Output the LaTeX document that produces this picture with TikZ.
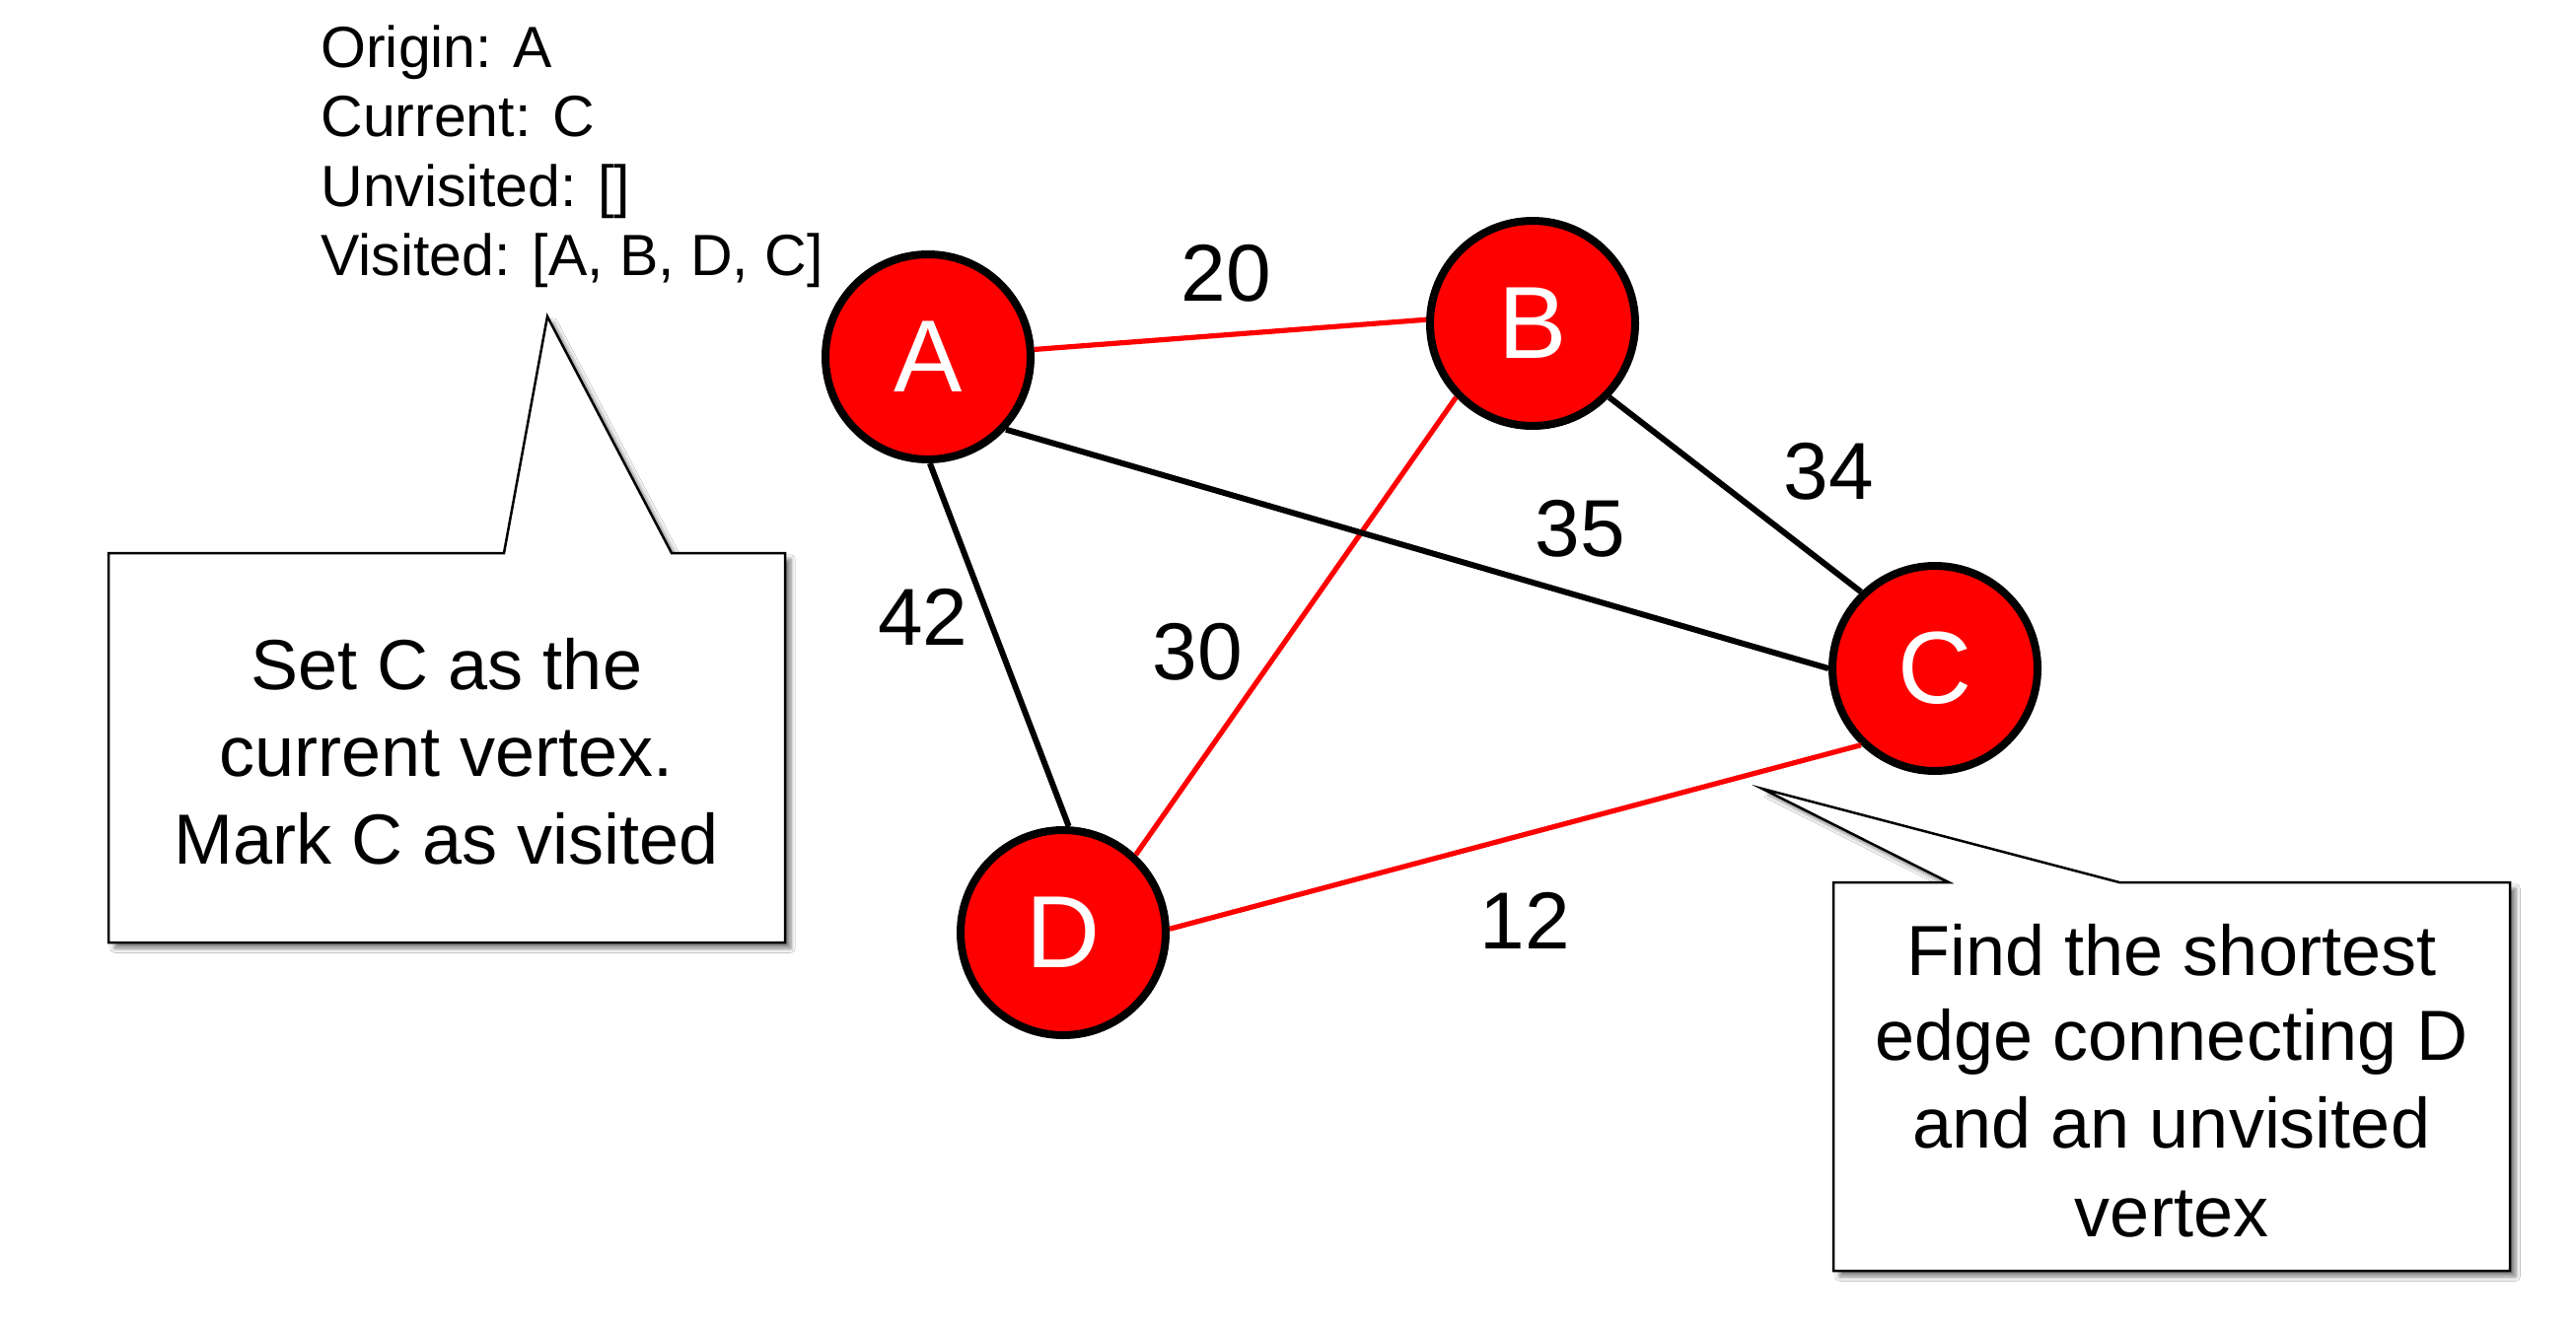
\documentclass[tikz,border=0pt]{standalone}
\usepackage{fontspec}
\setmainfont{Liberation Sans}
\usetikzlibrary{shadows.blur}
\begin{document}
\begin{tikzpicture}[x=0.5pt,y=-0.5pt,
 vertex/.style={circle, draw=black, line width=4pt, fill=red, text=white, minimum size=104pt, inner sep=0pt, font=\fontsize{52}{62}\selectfont},
 redge/.style={draw=red, line width=2.6pt},
 bedge/.style={draw=black, line width=3pt},
 wlabel/.style={font=\fontsize{41}{49}\selectfont, inner sep=0pt},
 info/.style={anchor=base west, inner sep=0pt, font=\fontsize{29.5}{35}\selectfont},
 ctext/.style={anchor=base, inner sep=0pt, font=\fontsize{36}{44}\selectfont},
 callout/.style={draw=black, line width=1.25pt, fill=white, line join=miter, blur shadow={shadow xshift=3pt, shadow yshift=-3pt, shadow blur steps=6, shadow opacity=50}}
]
\useasboundingbox[fill=white] (0,0) rectangle (2612,1344);

% info text
\node[info] (o1) at (325,68) {Origin: A};
\node[info] (o2) at (325,138) {Current: C};
\node[info] (o3) at (325,209) {Unvisited: []};
\node[info] (o4) at (325,279) {Visited: [A, B, D, C]};

% left callout
\coordinate (ltip) at (555,321);
\path[callout] (110,561) -- (511,561) -- (ltip) -- (681,561) -- (796,561) -- (796,956) -- (110,956) -- cycle;
\node[ctext] (s1) at (453,699) {Set C as the};
\node[ctext] (s2) at (453,787) {current vertex.};
\node[ctext] (s3) at (453,876) {Mark C as visited};

% right callout
\coordinate (rtip) at (1787,800);
\path[callout] (1859,895) -- (1976,895) -- (rtip) -- (2149,895) -- (2545,895) -- (2545,1289) -- (1859,1289) -- cycle;
\node[ctext] (f1) at (2202,989) {Find the shortest};
\node[ctext] (f2) at (2202,1075) {edge connecting D};
\node[ctext] (f3) at (2202,1164) {and an unvisited};
\node[ctext] (f4) at (2202,1254) {vertex};

% vertices
\node[vertex] (A) at (941,362) {A};
\node[vertex] (B) at (1554,328) {B};
\node[vertex] (C) at (1962,678) {C};
\node[vertex] (D) at (1078,946) {D};

% edges
\draw[redge] (A.4) -- (B.178);
\draw[redge] (B.-136) -- (D.47);
\draw[redge] (D.2) -- (C.-134);
\draw[bedge] (A.-43) -- (C.180);
\draw[bedge] (A.-89) -- (D.87);
\draw[bedge] (B.-44) -- (C.134);

% weights
\node[wlabel] (w20) at (1243,277) {20};
\node[wlabel] (w34) at (1854,478) {34};
\node[wlabel] (w35) at (1602,536) {35};
\node[wlabel] (w42) at (936,626) {42};
\node[wlabel] (w30) at (1214,661) {30};
\node[wlabel] (w12) at (1546,934) {12};
\end{tikzpicture}
\end{document}
